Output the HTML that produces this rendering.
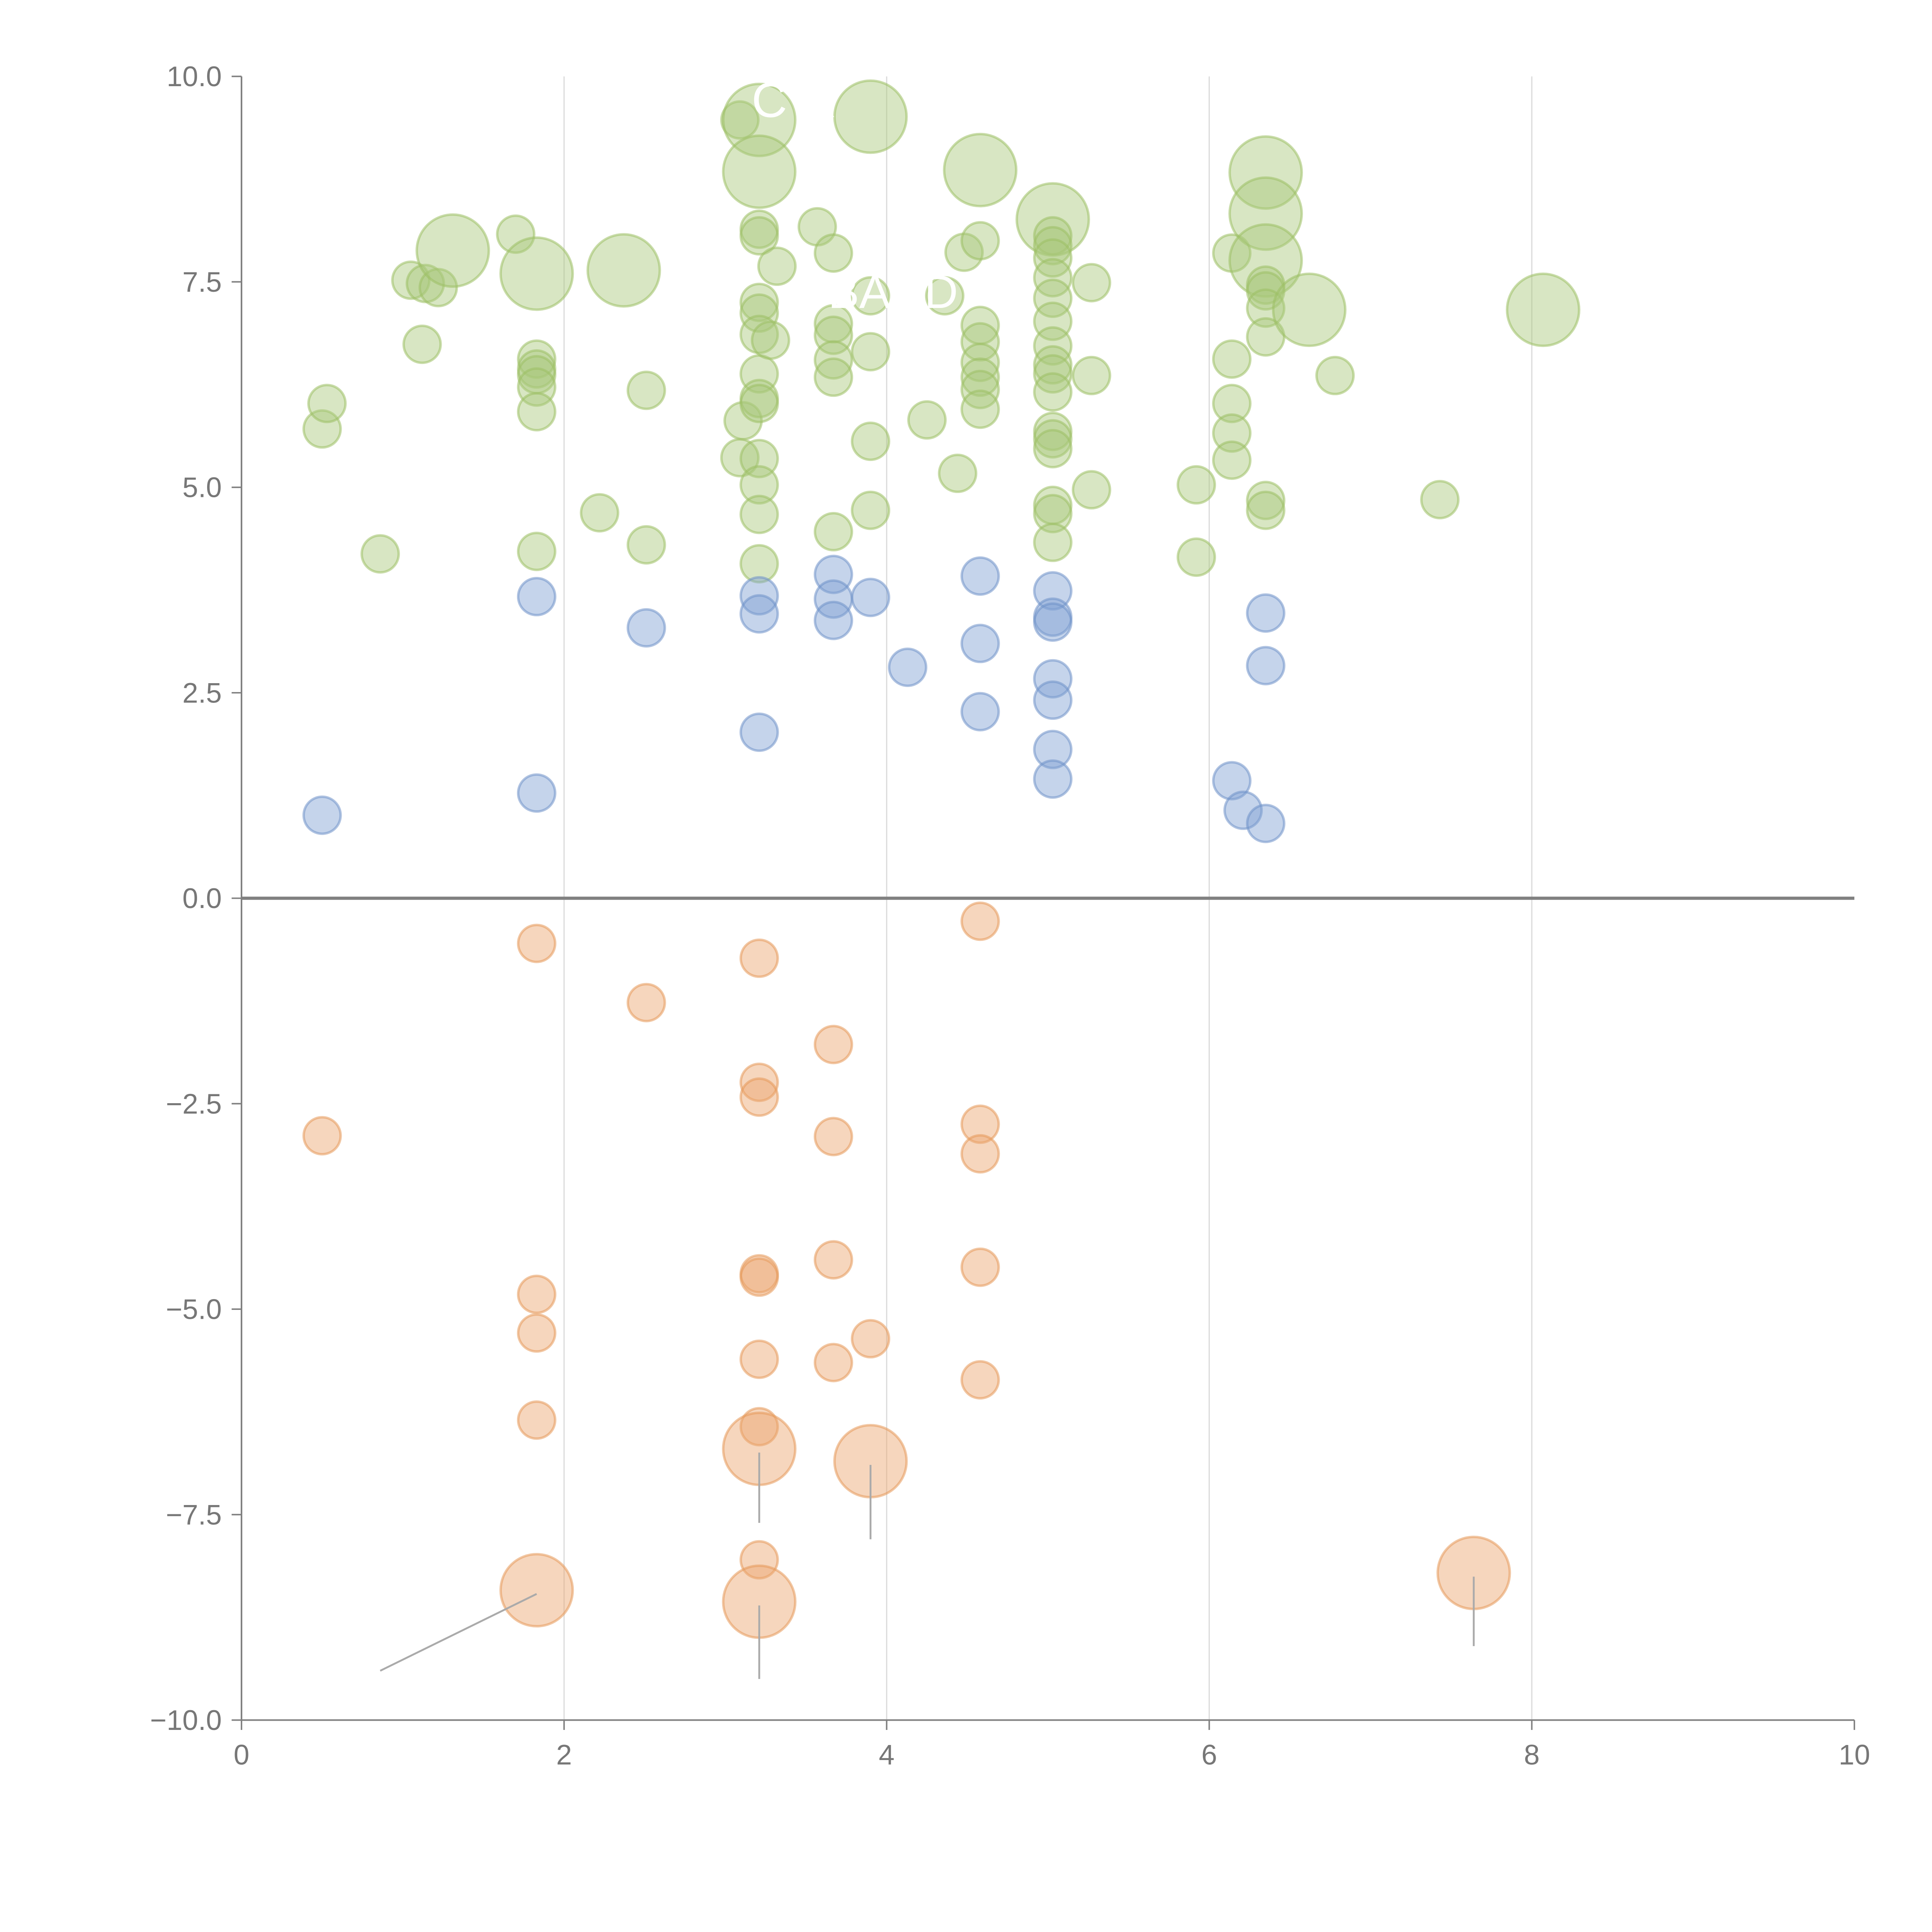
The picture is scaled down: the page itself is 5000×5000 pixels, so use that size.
<!DOCTYPE html>
<html><head><meta charset="utf-8"><style>
html,body{margin:0;padding:0;background:#fff}
svg{display:block}
text{font-family:"Liberation Sans",sans-serif}
</style></head><body>
<svg id="chart" width="5000" height="5000" viewBox="0 0 1568 1568" xmlns="http://www.w3.org/2000/svg">
<g id="grid"></g>
<g id="axes"></g>
<g id="marks"></g>
<g id="notes"></g>
</svg>
<script>
const xTicks=[0,2,4,6,8,10];
const yTicks=[10,7.5,5,2.5,0,-2.5,-5,-7.5,-10];
const yTickLabels=["10.0","7.5","5.0","2.5","0.0","\u22122.5","\u22125.0","\u22127.5","\u221210.0"];
const greenX=[0.50,0.53,0.86,1.12,1.05,1.14,1.22,1.31,1.70,1.83,1.83,1.83,1.83,1.83,1.83,1.83,2.22,2.37,2.51,2.51,3.11,3.09,3.09,3.21,3.21,3.21,3.21,3.21,3.21,3.21,3.21,3.21,3.21,3.21,3.21,3.21,3.21,3.32,3.28,3.57,3.67,3.67,3.67,3.67,3.67,3.67,3.90,3.90,3.90,3.90,3.90,4.25,4.36,4.44,4.48,4.58,4.58,4.58,4.58,4.58,4.58,4.58,4.58,5.03,5.03,5.03,5.03,5.03,5.03,5.03,5.03,5.03,5.03,5.03,5.03,5.03,5.03,5.03,5.03,5.03,5.27,5.27,5.27,5.92,5.92,6.14,6.14,6.14,6.14,6.14,6.35,6.35,6.35,6.35,6.35,6.35,6.35,6.35,6.35,6.62,6.78,7.43,8.07];
const greenY=[5.71,6.02,4.19,6.74,7.52,7.48,7.43,7.88,8.08,7.60,6.56,6.44,6.37,6.22,5.92,4.22,4.69,7.64,6.18,4.30,5.81,5.36,9.47,9.47,8.84,8.14,8.06,7.25,7.12,6.86,6.38,6.08,6.02,5.35,5.03,4.67,4.07,7.69,6.79,8.17,7.85,6.99,6.85,6.55,6.34,4.46,9.51,7.33,6.65,5.56,4.72,5.82,7.33,5.17,7.86,8.00,8.86,6.97,6.77,6.52,6.34,6.19,5.95,8.26,8.06,7.94,7.79,7.55,7.30,7.02,6.72,6.49,6.38,6.16,5.68,5.59,5.47,4.78,4.68,4.33,7.49,6.36,4.97,5.03,4.15,7.85,6.56,6.02,5.66,5.33,8.83,8.33,7.76,7.46,7.39,7.18,6.83,4.84,4.72,7.16,6.36,4.85,7.16];
const greenS=[1,1,1,1,1,1,1,3.8,1,3.8,1,1,1,1,1,1,1,3.8,1,1,1,1,1,3.8,3.8,1,1,1,1,1,1,1,1,1,1,1,1,1,1,1,1,1,1,1,1,1,3.8,1,1,1,1,1,1,1,1,1,3.8,1,1,1,1,1,1,3.8,1,1,1,1,1,1,1,1,1,1,1,1,1,1,1,1,1,1,1,1,1,1,1,1,1,1,3.8,3.8,3.8,1,1,1,1,1,1,3.8,1,1,3.8];
const blueX=[0.50,1.83,1.83,2.51,3.21,3.21,3.21,3.67,3.67,3.67,3.90,4.13,4.58,4.58,4.58,5.03,5.03,5.03,5.03,5.03,5.03,5.03,6.14,6.21,6.35,6.35,6.35];
const blueY=[1.01,3.67,1.28,3.29,3.68,3.46,2.02,3.94,3.64,3.38,3.66,2.81,3.92,3.10,2.27,3.74,3.42,3.36,2.67,2.41,1.81,1.45,1.43,1.07,3.47,2.83,0.91];
const orangeX=[0.50,1.83,1.83,1.83,1.83,1.83,2.51,3.21,3.21,3.21,3.21,3.21,3.21,3.21,3.21,3.21,3.21,3.67,3.67,3.67,3.67,3.90,3.90,4.58,4.58,4.58,4.58,4.58,7.64];
const orangeY=[-2.89,-0.55,-4.82,-5.29,-6.35,-8.42,-1.27,-0.73,-2.24,-2.42,-4.57,-4.61,-5.61,-6.43,-6.70,-8.05,-8.56,-1.78,-2.90,-4.40,-5.65,-5.36,-6.85,-0.28,-2.75,-3.11,-4.49,-5.86,-8.21];
const orangeS=[1,1,1,1,1,3.8,1,1,1,1,1,1,1,1,3.8,1,3.8,1,1,1,1,1,3.8,1,1,1,1,1,3.8];
const leaderFromX=[1.83,3.21,3.21,3.90,7.64];
const leaderFromY=[-8.42,-6.70,-8.56,-6.85,-8.21];
const leaderToX=[0.86,3.21,3.21,3.90,7.64];
const leaderToY=[-9.4,-7.6,-9.5,-7.8,-9.1];

const NS="http://www.w3.org/2000/svg";
const X0=196,X1=1505,Y0=1396,Y1=62;
const sx=v=>X0+(v-0)/(10-0)*(X1-X0);
const sy=v=>Y0-(v+10)/20*(Y0-Y1);
function mk(tag,attrs,parent){const e=document.createElementNS(NS,tag);for(const k in attrs)e.setAttribute(k,attrs[k]);parent.appendChild(e);return e;}
const grid=document.getElementById('grid'),axes=document.getElementById('axes'),marks=document.getElementById('marks'),notes=document.getElementById('notes');

xTicks.forEach(t=>{
  if(t>0&&t<10){const g=mk('line',{x1:sx(t),x2:sx(t),y1:Y1,y2:Y0,stroke:'#dcdcdc','stroke-width':1},grid);
  
  }
  const tk=mk('line',{x1:sx(t),x2:sx(t),y1:Y0,y2:Y0+8,stroke:'#808080','stroke-width':1.2},axes);
  
  
  const lb=mk('text',{x:sx(t),y:Y0+36,'text-anchor':'middle','font-size':23,fill:'#777'},axes);
  lb.textContent=t;
  
  
});
yTicks.forEach((t,i)=>{
  const tk=mk('line',{x1:X0-8,x2:X0,y1:sy(t),y2:sy(t),stroke:'#808080','stroke-width':1.2},axes);
  
  
  const lb=mk('text',{x:X0-16,y:sy(t)+8,'text-anchor':'end','font-size':23,fill:'#777'},axes);
  lb.textContent=yTickLabels[i];
  
  
});
let a=mk('line',{x1:X0,x2:X0,y1:Y1,y2:Y0,stroke:'#808080','stroke-width':1.3},axes);


a=mk('line',{x1:X0,x2:X1,y1:Y0,y2:Y0,stroke:'#808080','stroke-width':1.3},axes);


a=mk('line',{x1:X0,x2:X1,y1:sy(0),y2:sy(0),stroke:'#808080','stroke-width':2.6},axes);



function series(xs,ys,ss,fill,stroke,name){
  xs.forEach((x,i)=>{
    const r=15*Math.sqrt(ss?ss[i]:1);
    const c=mk('circle',{cx:sx(x),cy:sy(ys[i]),r:r,fill:fill,'fill-opacity':0.45,stroke:stroke,'stroke-opacity':0.55,'stroke-width':2},marks);
    
    
  });
}
series(greenX,greenY,greenS,'#a9c87a','#9cc064','green-bubble');
series(blueX,blueY,null,'#7fa0d2','#6f92c8','blue-bubble');
series(orangeX,orangeY,orangeS,'#eaa56c','#e5995a','orange-bubble');

leaderFromX.forEach((x,i)=>{
  const l=mk('line',{x1:sx(x),y1:sy(leaderFromY[i])+3,x2:sx(leaderToX[i]),y2:sy(leaderToY[i]),stroke:'#aaa','stroke-width':1.5},notes);
  
  
});
let t=mk('text',{x:610,y:95,'font-size':40,fill:'#fff'},notes);t.textContent='C R';


t=mk('text',{x:672,y:250,'font-size':38,fill:'#fff'},notes);t.textContent='BAND';


</script>
</body></html>
